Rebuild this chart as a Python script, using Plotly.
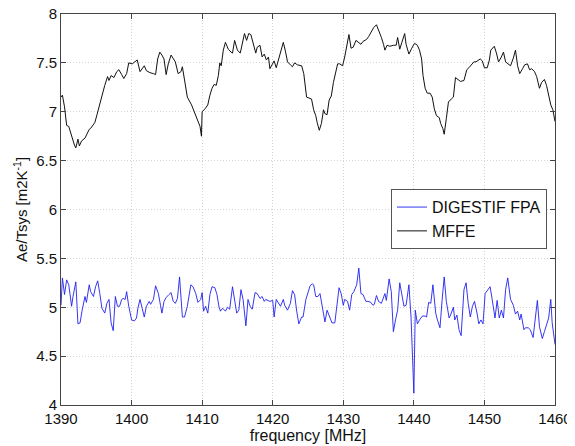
import plotly.graph_objects as go

# MFFE (black)
mffe_freq = [1390.0, 1390.2, 1390.5, 1390.8, 1391.1, 1391.5, 1391.9, 1392.1, 1392.4, 1392.6, 1392.9, 1393.4,
             1393.7, 1394.0, 1394.2, 1394.5, 1394.8, 1395.1, 1395.5, 1395.8, 1396.2, 1396.6, 1396.8, 1397.1,
             1397.5, 1397.9, 1398.2, 1398.6, 1398.9, 1399.3, 1399.6, 1400.1, 1400.5, 1400.8, 1401.2, 1401.5,
             1401.8, 1402.1, 1402.6, 1403.1, 1403.4, 1403.7, 1404.0, 1404.3, 1404.6, 1404.9, 1405.2, 1405.6,
             1405.9, 1406.2, 1406.6, 1407.0, 1407.2, 1407.5, 1407.9, 1408.5, 1408.9, 1409.3, 1409.7, 1409.9,
             1410.0, 1410.4, 1410.8, 1411.1, 1411.4, 1411.7, 1412.0, 1412.3, 1412.5,
             1412.7, 1413.0, 1413.3, 1413.7, 1414.1, 1414.3, 1414.6, 1415.0, 1415.4, 1415.7, 1416.0, 1416.3,
             1416.6, 1416.9, 1417.3, 1417.6, 1417.8, 1418.2, 1418.5, 1418.8, 1419.1, 1419.4, 1419.6, 1420.0,
             1420.2, 1420.5, 1420.9, 1421.2, 1421.5, 1421.8, 1422.1, 1422.5, 1422.8, 1423.1, 1423.5, 1424.1,
             1424.4, 1424.8, 1425.1, 1425.5, 1425.8, 1426.1, 1426.3, 1426.6, 1426.9, 1427.2, 1427.4, 1427.7,
             1428.0, 1428.3, 1428.6, 1428.9, 1429.2, 1429.5, 1429.9, 1430.2, 1430.5, 1430.8, 1431.1, 1431.4,
             1431.8, 1432.1, 1432.5, 1432.8, 1433.3, 1433.6, 1434.0, 1434.3, 1434.7, 1435.0, 1435.4,
             1435.7, 1435.9, 1436.2, 1436.6, 1437.1, 1437.5, 1437.7, 1438.0, 1438.3, 1438.7, 1438.9, 1439.3,
             1439.7, 1440.1, 1440.5, 1440.8, 1441.1, 1441.3, 1441.6, 1441.9, 1442.3, 1442.6, 1442.9, 1443.2,
             1443.6, 1443.8, 1444.1, 1444.3, 1444.6, 1444.9, 1445.3, 1445.6, 1445.9, 1446.3, 1446.6, 1447.1,
             1447.5, 1447.8, 1448.2, 1448.5, 1448.8, 1449.1, 1449.4, 1449.7, 1450.0, 1450.4, 1450.7, 1450.9,
             1451.4, 1451.7, 1452.0, 1452.4, 1452.7, 1453.0, 1453.3, 1453.7, 1454.1, 1454.4, 1454.7, 1455.0,
             1455.4, 1455.7, 1456.1, 1456.4, 1456.7, 1457.1, 1457.4, 1457.8, 1458.1, 1458.5, 1458.8, 1459.1,
             1459.4, 1459.7, 1460.0]
mffe_vals = [7.15, 7.17, 7.05, 6.86, 6.85, 6.75, 6.66, 6.63, 6.72, 6.65, 6.70, 6.73,
             6.77, 6.82, 6.83, 6.86, 6.89, 6.97, 7.09, 7.15, 7.27, 7.36, 7.32, 7.37,
             7.35, 7.41, 7.43, 7.38, 7.34, 7.39, 7.50, 7.49, 7.51, 7.53, 7.41, 7.44,
             7.47, 7.42, 7.40, 7.39, 7.38, 7.54, 7.61, 7.58, 7.54, 7.38, 7.49, 7.58,
             7.55, 7.51, 7.39, 7.41, 7.46, 7.32, 7.15, 7.07, 7.00, 6.93, 6.85, 6.75,
             7.00, 7.03, 7.07, 7.17, 7.24, 7.28, 7.27, 7.37, 7.50,
             7.47, 7.63, 7.71, 7.64, 7.61, 7.60, 7.73, 7.63, 7.60, 7.71, 7.80, 7.73,
             7.80, 7.79, 7.68, 7.60, 7.66, 7.68, 7.56, 7.59, 7.53, 7.56, 7.44, 7.50,
             7.52, 7.45, 7.56, 7.64, 7.71, 7.62, 7.51, 7.48, 7.46, 7.50, 7.48, 7.47,
             7.39, 7.15, 7.14, 7.13, 7.02, 6.96, 6.89, 6.81, 6.88, 7.02, 6.98, 6.97,
             7.12, 7.16, 7.30, 7.41, 7.49, 7.49, 7.47, 7.56, 7.69, 7.79, 7.65, 7.66,
             7.73, 7.71, 7.69, 7.72, 7.74, 7.77, 7.82, 7.86, 7.89, 7.84, 7.76,
             7.69, 7.63, 7.68, 7.67, 7.68, 7.68, 7.76, 7.64, 7.71, 7.80, 7.69, 7.59,
             7.65, 7.70, 7.68, 7.63, 7.54, 7.37, 7.24, 7.19, 7.19, 7.15, 7.03, 6.96,
             6.94, 6.88, 6.83, 6.77, 6.93, 7.10, 7.13, 7.15, 7.35, 7.33, 7.31, 7.32,
             7.43, 7.45, 7.49, 7.51, 7.51, 7.53, 7.54, 7.52, 7.45, 7.45, 7.53, 7.63,
             7.67, 7.60, 7.51, 7.56, 7.61, 7.51, 7.49, 7.47, 7.55, 7.63, 7.47, 7.39,
             7.44, 7.48, 7.49, 7.43, 7.44, 7.41, 7.36, 7.24, 7.30, 7.33, 7.27, 7.17,
             7.07, 7.02, 6.90]

# DIGESTIF FPA (blue)
dig_freq = [1390.0, 1390.2, 1390.5, 1390.8, 1391.1, 1391.5, 1391.7, 1392.1, 1392.4, 1392.7, 1393.0, 1393.4,
            1393.6, 1394.0, 1394.2, 1394.6, 1394.9, 1395.2, 1395.5, 1395.8, 1396.2, 1396.5, 1396.8, 1397.1,
            1397.4, 1397.7, 1398.0, 1398.3, 1398.6, 1398.8, 1399.1, 1399.3, 1399.6, 1400.0, 1400.4, 1400.7,
            1400.9, 1401.2, 1401.5, 1401.8, 1402.1, 1402.5, 1402.7, 1403.1, 1403.4, 1403.8, 1404.1, 1404.3,
            1404.6, 1404.9, 1405.3, 1405.6, 1405.9, 1406.2, 1406.5, 1406.8, 1407.2, 1407.5, 1407.9, 1408.2,
            1408.4, 1408.7, 1409.1, 1409.4, 1409.8, 1410.0, 1410.2, 1410.5, 1410.8, 1411.1, 1411.4, 1411.8,
            1412.1, 1412.4, 1412.6, 1412.9,
            1413.3, 1413.6, 1413.9, 1414.3, 1414.6, 1414.9, 1415.2, 1415.5, 1415.8, 1416.2, 1416.5, 1416.8,
            1417.1, 1417.5, 1417.8, 1418.2, 1418.5, 1418.8, 1419.0, 1419.3, 1419.6, 1420.0, 1420.2, 1420.5,
            1420.8, 1421.1, 1421.5, 1421.7, 1422.1, 1422.5, 1422.8, 1423.1, 1423.4, 1423.7, 1424.1, 1424.3,
            1424.7, 1425.0, 1425.3, 1425.6, 1425.8, 1426.1, 1426.4, 1426.7, 1427.0, 1427.4, 1427.7, 1428.1,
            1428.4, 1428.8, 1429.1, 1429.4, 1429.7, 1430.0, 1430.2, 1430.6, 1430.9, 1431.2, 1431.5, 1431.9,
            1432.2, 1432.5, 1432.8, 1433.2, 1433.5, 1433.9, 1434.2, 1434.4, 1434.7, 1435.0, 1435.4,
            1435.7, 1435.9, 1436.1, 1436.5, 1436.8, 1437.1, 1437.4, 1437.7, 1438.0, 1438.3, 1438.6, 1438.9,
            1439.3, 1439.6, 1439.8, 1440.0, 1440.2, 1440.5, 1440.8, 1441.2, 1441.6, 1441.8, 1442.1, 1442.4,
            1442.7, 1443.1, 1443.3, 1443.7, 1444.0, 1444.3, 1444.6, 1445.0, 1445.2, 1445.6, 1445.8, 1446.1,
            1446.4, 1446.7, 1447.1, 1447.4, 1447.7, 1448.0, 1448.3, 1448.6, 1449.0, 1449.2, 1449.5, 1449.8,
            1450.1, 1450.5, 1450.8, 1451.1, 1451.5, 1451.8, 1452.1, 1452.4, 1452.7, 1453.0, 1453.3, 1453.7,
            1454.1, 1454.4, 1454.7, 1455.0, 1455.2, 1455.6, 1455.8, 1456.2, 1456.5, 1456.9, 1457.2, 1457.5,
            1457.8, 1458.2, 1458.5, 1458.8, 1459.1, 1459.4, 1459.6, 1460.0]
dig_vals = [5.02, 5.30, 5.13, 5.28, 5.23, 5.01, 5.11, 5.26, 4.83, 4.84, 4.97, 5.11,
            5.05, 5.23, 5.16, 5.11, 5.21, 5.27, 5.14, 4.99, 4.94, 5.04, 5.08, 4.84,
            4.76, 5.11, 5.01, 5.01, 5.08, 5.09, 5.08, 5.16, 5.01, 4.87, 4.86, 4.89,
            4.99, 5.08, 4.99, 4.90, 5.01, 5.06, 5.03, 5.08, 5.22, 5.14, 5.02, 4.94,
            5.06, 5.10, 5.13, 5.15, 5.06, 5.04, 5.09, 5.31, 4.90, 4.90, 5.01, 5.14,
            5.23, 5.21, 5.14, 5.05, 5.08, 5.15, 4.96, 5.01, 4.94, 5.13, 5.21, 5.20,
            5.13, 5.00, 4.96, 4.99,
            4.96, 5.00, 4.98, 5.21, 5.08, 4.94, 4.97, 5.18, 5.08, 4.81, 5.08, 5.01,
            4.98, 5.15, 5.14, 5.09, 5.11, 5.06, 5.08, 5.07, 5.06, 5.07, 4.90, 5.08,
            5.04, 5.01, 5.08, 5.02, 4.97, 5.04, 5.17, 5.13, 4.96, 4.83, 4.90, 4.90,
            5.08, 5.15, 5.22, 5.24, 5.23, 5.11, 5.11, 5.14, 5.01, 4.85, 4.97, 4.90,
            4.84, 4.84, 5.04, 5.20, 5.14, 5.02, 5.08, 5.06, 4.97, 5.13, 5.16, 5.23,
            5.40, 5.14, 5.13, 5.06, 5.06, 5.05, 5.02, 5.03, 5.12, 5.06, 5.04,
            5.11, 5.14, 5.07, 5.29, 5.16, 4.75, 4.87, 4.97, 5.25, 5.14, 5.01, 5.02,
            5.23, 4.90, 4.46, 4.12, 4.97, 4.83, 4.87, 4.91, 4.91, 4.90, 5.05, 5.04,
            5.23, 4.94, 4.88, 4.79, 5.07, 5.31, 5.06, 4.89, 4.92, 5.00, 4.87, 4.92,
            4.77, 4.71, 5.18, 5.25, 5.04, 4.90, 5.01, 5.06, 4.92, 4.83, 4.87, 4.83,
            5.14, 5.18, 5.21, 5.08, 4.89, 5.07, 4.89, 4.97, 4.89, 5.18, 5.30, 5.08,
            5.02, 4.93, 4.96, 4.87, 4.93, 4.77, 4.79, 4.79, 4.77, 4.69, 4.87, 5.07,
            4.80, 4.68, 4.75, 4.82, 4.89, 5.08, 4.84, 4.62]

x_ticks = [1390, 1400, 1410, 1420, 1430, 1440, 1450, 1460]
y_ticks = [4, 4.5, 5, 5.5, 6, 6.5, 7, 7.5, 8]

font_family = "Liberation Sans, Arial, sans-serif"

fig = go.Figure()
fig.add_trace(go.Scatter(x=dig_freq, y=dig_vals, mode="lines", name="DIGESTIF FPA",
                         line=dict(color="#2020ee", width=0.9)))
fig.add_trace(go.Scatter(x=mffe_freq, y=mffe_vals, mode="lines", name="MFFE",
                         line=dict(color="#111111", width=1)))

axis_common = dict(
    automargin=False, ticklabeloverflow="allow",
    showline=True, linecolor="#444444", linewidth=1, mirror="allticks",
    ticks="inside", ticklen=5, tickcolor="#444444",
    showgrid=True, gridcolor="#d4d4d4", griddash="1px,2px", gridwidth=1,
    zeroline=False, tickfont=dict(size=15, color="#111111", family=font_family),
)

fig.update_layout(
    width=567, height=438,
    margin=dict(l=53, r=20, t=6, b=41),
    paper_bgcolor="white", plot_bgcolor="white",
    font=dict(family=font_family, color="#111111", size=15),
    showlegend=True,
    legend=dict(x=0.668, y=0.552, xanchor="left", yanchor="top",
                bgcolor="white", bordercolor="#555555", borderwidth=1,
                font=dict(size=16), tracegroupgap=0),
)
fig.update_xaxes(range=[1390, 1460], tickvals=x_ticks,
                 title=dict(text="frequency [MHz]", standoff=2, font=dict(size=16)),
                 **axis_common)
fig.update_yaxes(range=[4, 8], tickvals=y_ticks, ticktext=[f"{v:g}" for v in y_ticks],
                 title=dict(text="Ae/Tsys [m2K<sup>-1</sup>]", standoff=4, font=dict(size=15)),
                 **axis_common)

fig.write_html("out.html")
